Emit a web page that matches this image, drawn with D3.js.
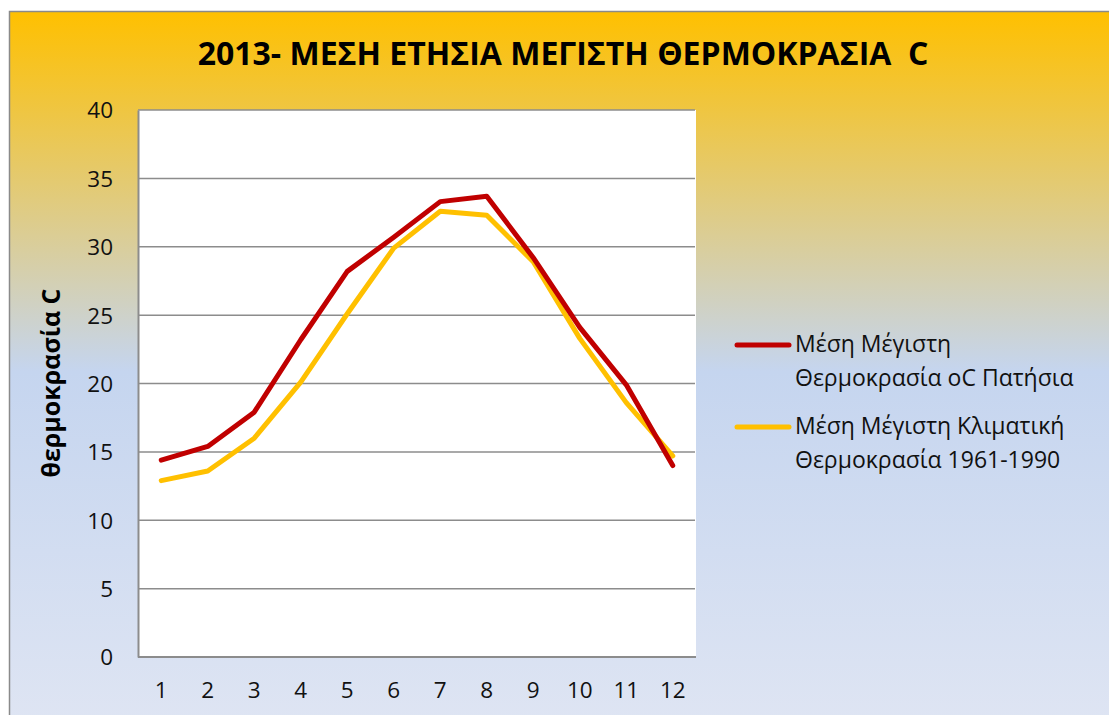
<!DOCTYPE html>
<html><head><meta charset="utf-8">
<script src="https://cdnjs.cloudflare.com/ajax/libs/d3/7.8.5/d3.min.js"></script>
<style>html,body{margin:0;padding:0;background:#fff;overflow:hidden}</style>
</head><body>
<svg id="chart" width="1109" height="715"></svg>
<script>
const months = ["1","2","3","4","5","6","7","8","9","10","11","12"];
const patisia = [14.4,15.4,17.9,23.2,28.2,30.7,33.3,33.7,29.2,24.1,19.9,14.0];
const climate = [12.9,13.6,16.0,20.1,25.1,29.9,32.6,32.3,28.9,23.3,18.6,14.7];
const yTicks = [0,5,10,15,20,25,30,35,40];
const seriesNames = [["Μέση Μέγιστη","Θερμοκρασία oC Πατήσια"],["Μέση Μέγιστη Κλιματική","Θερμοκρασία 1961-1990"]];
const seriesColors = ["#C00000","#FFC000"];
const title = "2013- ΜΕΣΗ ΕΤΗΣΙΑ ΜΕΓΙΣΤΗ ΘΕΡΜΟΚΡΑΣΙΑ  C";
const yTitle = "θερμοκρασία C";

const svg = d3.select("#chart");
const font = "'Open Sans', 'Noto Sans', sans-serif";
const defs = svg.append("defs");
const grad = defs.append("linearGradient").attr("id","bg").attr("x1",0).attr("y1",0).attr("x2",0).attr("y2",1);
grad.append("stop").attr("offset","0%").attr("stop-color","#FFC000");
grad.append("stop").attr("offset","50%").attr("stop-color","#C5D5EF");
grad.append("stop").attr("offset","100%").attr("stop-color","#DFE5F3");

svg.append("rect").attr("x",9.5).attr("y",11.5).attr("width",1120).attr("height",720)
  .attr("fill","url(#bg)").attr("stroke","#8a8a8a").attr("stroke-width",1.5);

const L=138, R=696, T=110, B=657;
const x = d3.scaleBand().domain(months).range([L,R]);
const y = d3.scaleLinear().domain([0,40]).range([B,T]);

svg.append("rect").attr("x",L).attr("y",T).attr("width",R-L).attr("height",B-T).attr("fill","#fff");

// gridlines
svg.append("g").selectAll("line").data(yTicks.filter(d=>d>0)).join("line")
  .attr("x1",L).attr("x2",R-1).attr("y1",d=>y(d)).attr("y2",d=>y(d))
  .attr("stroke","#8c8c8c").attr("stroke-width",1.5);

// axes
const yAxis = svg.append("g").attr("transform",`translate(${L},0)`)
  .call(d3.axisLeft(y).tickValues(yTicks).tickSize(0).tickPadding(25));
yAxis.select(".domain").attr("stroke","#8c8c8c").attr("stroke-width",2);
yAxis.selectAll("text").attr("font-family",font).attr("font-size",22.5).attr("fill","#111").attr("dy","0.35em");

const xAxis = svg.append("g").attr("transform",`translate(0,${B})`)
  .call(d3.axisBottom(x).tickSize(0).tickPadding(33));
xAxis.select(".domain").attr("stroke","#8c8c8c").attr("stroke-width",2).attr("d",`M${L},0H${R}`);
xAxis.selectAll("text").attr("font-family",font).attr("font-size",22.5).attr("fill","#111").attr("dy","0.35em");

// lines
const line = d3.line().x((d,i)=>x(months[i])+x.bandwidth()/2).y(d=>y(d));
[climate, patisia].forEach((s,k)=>{
  svg.append("path").datum(s).attr("d",line).attr("fill","none")
    .attr("stroke", k===0?seriesColors[1]:seriesColors[0]).attr("stroke-width",5)
    .attr("stroke-linejoin","round").attr("stroke-linecap","round");
});

// title
svg.append("text").attr("x",563).attr("y",65).attr("text-anchor","middle")
  .attr("font-family",font).attr("font-weight","bold").attr("font-size",32).attr("fill","#000")
  .attr("xml:space","preserve").style("white-space","pre").text(title);

// y title
svg.append("text").attr("transform","translate(60,383) rotate(-90)").attr("text-anchor","middle")
  .attr("font-family",font).attr("font-weight","bold").attr("font-size",25).attr("fill","#000").text(yTitle);

// legend
const leg = svg.append("g");
const legY = [344,426];
seriesNames.forEach((nm,i)=>{
  leg.append("line").attr("x1",737).attr("x2",789).attr("y1",legY[i]+1).attr("y2",legY[i]+1)
    .attr("stroke",seriesColors[i]).attr("stroke-width",5).attr("stroke-linecap","round");
  nm.forEach((t,j)=>{
    leg.append("text").attr("x",795).attr("y",legY[i]+j*33.5).attr("dy","0.35em")
      .attr("font-family",font).attr("font-size",23).attr("fill","#111").text(t);
  });
});
</script>
</body></html>
